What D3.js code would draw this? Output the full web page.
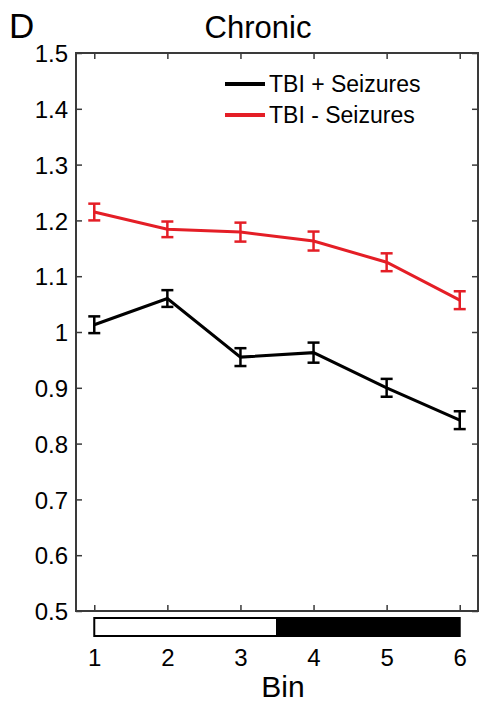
<!DOCTYPE html>
<html>
<head>
<meta charset="utf-8">
<script src="https://cdn.jsdelivr.net/npm/d3@7"></script>
<style>
  html, body { margin: 0; padding: 0; background: #fff; }
  svg { display: block; font-family: "Liberation Sans", Arial, sans-serif; }
</style>
</head>
<body>
<svg id="chart" width="479" height="702"></svg>
<script>
// ---- data ----
const bins = [1, 2, 3, 4, 5, 6];
const tbiPlusSeizures = [1.013, 1.060, 0.955, 0.963, 0.900, 0.842];
const tbiPlusSeizuresErr = [0.015, 0.015, 0.016, 0.018, 0.016, 0.016];
const tbiMinusSeizures = [1.215, 1.184, 1.179, 1.163, 1.125, 1.057];
const tbiMinusSeizuresErr = [0.015, 0.014, 0.017, 0.017, 0.016, 0.016];
const yTicks = [0.5, 0.6, 0.7, 0.8, 0.9, 1.0, 1.1, 1.2, 1.3, 1.4, 1.5];
const xTicks = [1, 2, 3, 4, 5, 6];
const lightDark = [{start: 1, end: 3.5, fill: "#fff"}, {start: 3.5, end: 6, fill: "#000"}];
const seriesNames = ["TBI + Seizures", "TBI - Seizures"];
const seriesColors = ["#000000", "#e41e26"];

// ---- layout ----
const svg = d3.select("#chart");
const mLeft = 76, mRight = 478, mTop = 53, mBottom = 611;
const x = d3.scaleLinear().domain([0.75, 6.25]).range([mLeft, mRight]);
const y = d3.scaleLinear().domain([0.5, 1.5]).range([mBottom, mTop]);
const axisColor = "#3a3a3a";

// frame
svg.append("rect")
  .attr("x", mLeft).attr("y", mTop)
  .attr("width", mRight - mLeft).attr("height", mBottom - mTop)
  .attr("fill", "none").attr("stroke", axisColor).attr("stroke-width", 2);

function styleAxis(g, showLabels) {
  g.select(".domain").remove();
  g.selectAll(".tick line").attr("stroke", axisColor).attr("stroke-width", 1.5);
  g.selectAll(".tick text")
    .attr("fill", "#000")
    .attr("font-size", 24)
    .attr("font-family", "Liberation Sans, Arial, sans-serif");
  if (!showLabels) g.selectAll(".tick text").remove();
}

const fmt = d => String(+d.toFixed(1));

svg.append("g").attr("transform", `translate(${mLeft},0)`)
  .call(d3.axisLeft(y).tickValues(yTicks).tickFormat(fmt).tickSize(-6).tickPadding(8))
  .call(g => styleAxis(g, true))
  .call(g => g.selectAll(".tick text").attr("dy", "0.36em"));

svg.append("g").attr("transform", `translate(${mRight},0)`)
  .call(d3.axisRight(y).tickValues(yTicks).tickSize(-6))
  .call(g => styleAxis(g, false));

svg.append("g").attr("transform", `translate(0,${mTop})`)
  .call(d3.axisTop(x).tickValues(xTicks).tickSize(-6))
  .call(g => styleAxis(g, false));

svg.append("g").attr("transform", `translate(0,${mBottom})`)
  .call(d3.axisBottom(x).tickValues(xTicks).tickFormat(d3.format("d")).tickSize(-6).tickPadding(38))
  .call(g => styleAxis(g, true));

// light/dark bar
svg.append("g").selectAll("rect").data(lightDark).join("rect")
  .attr("x", d => x(d.start)).attr("y", 618)
  .attr("width", d => x(d.end) - x(d.start)).attr("height", 18)
  .attr("fill", d => d.fill).attr("stroke", "#000").attr("stroke-width", 2);

// series
const series = [
  {vals: tbiPlusSeizures, err: tbiPlusSeizuresErr, color: seriesColors[0]},
  {vals: tbiMinusSeizures, err: tbiMinusSeizuresErr, color: seriesColors[1]}
];
const line = d3.line().x((d, i) => x(bins[i])).y(d => y(d));
const capW = 6;
series.forEach(s => {
  svg.append("path").datum(s.vals)
    .attr("d", line).attr("fill", "none")
    .attr("stroke", s.color).attr("stroke-width", 3);
  const eb = svg.append("g").attr("stroke", s.color).attr("stroke-width", 2.5);
  s.vals.forEach((v, i) => {
    const cx = x(bins[i]);
    const y1 = y(v + s.err[i]), y0 = y(v - s.err[i]);
    eb.append("line").attr("x1", cx).attr("x2", cx).attr("y1", y1).attr("y2", y0);
    eb.append("line").attr("x1", cx - capW).attr("x2", cx + capW).attr("y1", y1).attr("y2", y1);
    eb.append("line").attr("x1", cx - capW).attr("x2", cx + capW).attr("y1", y0).attr("y2", y0);
  });
});

// legend
const leg = svg.append("g");
seriesNames.forEach((name, i) => {
  const ly = 84 + i * 31;
  leg.append("line").attr("x1", 225).attr("x2", 265).attr("y1", ly).attr("y2", ly)
    .attr("stroke", seriesColors[i]).attr("stroke-width", 4);
  leg.append("text").attr("x", 269).attr("y", ly + 8)
    .attr("font-size", 23).attr("fill", "#000").text(name);
});

// titles
svg.append("text").attr("x", 258).attr("y", 38).attr("text-anchor", "middle")
  .attr("font-size", 31).attr("fill", "#000").text("Chronic");
svg.append("text").attr("x", 9).attr("y", 38)
  .attr("font-size", 35).attr("fill", "#000").text("D");
svg.append("text").attr("x", 283).attr("y", 697).attr("text-anchor", "middle")
  .attr("font-size", 30).attr("fill", "#000").text("Bin");
</script>
</body>
</html>
